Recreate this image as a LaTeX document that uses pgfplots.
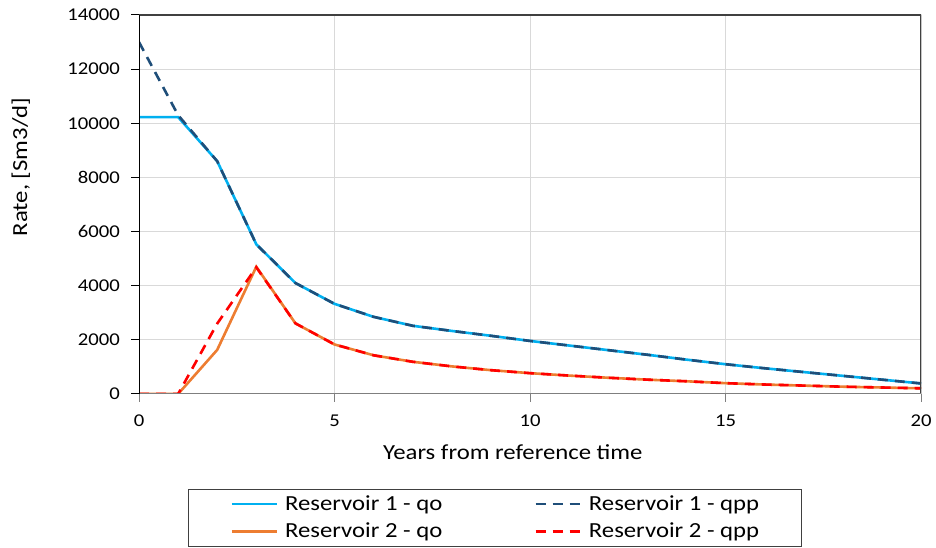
\documentclass[border=0pt]{standalone}
\usepackage{pgfplots}
\pgfplotsset{compat=1.18}
\usepackage{fontspec}
\setmainfont{Carlito}[FakeStretch=1.15]
\definecolor{rOne}{HTML}{00B0F0}
\definecolor{rOneP}{HTML}{1F4E79}
\definecolor{rTwo}{HTML}{ED7D31}
\definecolor{rTwoP}{HTML}{FF0000}
\definecolor{gridc}{HTML}{D9D9D9}
\definecolor{boxc}{HTML}{404040}
\definecolor{xaxc}{HTML}{7F7F7F}
\begin{document}
\fontsize{18}{22}\selectfont
\begin{tikzpicture}
\path (0,0) rectangle (936pt,548pt);
\begin{axis}[
  at={(139pt,154pt)}, anchor=south west,
  scale only axis, width=782pt, height=379pt,
  xmin=0, xmax=20, ymin=0, ymax=14000,
  xtick={0,5,10,15,20}, ytick={0,2000,...,14000},
  grid=major, grid style={gridc, line width=1pt},
  tick pos=left, tick align=outside, major tick length=8pt,
  every tick/.style={line width=1pt},
  xtick style={xaxc}, ytick style={black},
  axis line style={draw=none},
  /pgf/number format/assume math mode=true,
  scaled y ticks=false,
  yticklabel style={/pgf/number format/1000 sep={}, font=\fontsize{18}{22}\selectfont, inner sep=0pt, xshift=-11pt},
  xticklabel style={font=\fontsize{18}{22}\selectfont, inner sep=0pt, yshift=-13pt},
  xlabel={Years from reference time},
  ylabel={Rate, [Sm3/d]},
  every axis x label/.style={at={(axis description cs:0.478,-0.153)}, anchor=center, font=\fontsize{21.5}{25}\selectfont},
  every axis y label/.style={at={(axis description cs:-0.151,0.599)}, rotate=90, anchor=center, font=\fontsize{21.5}{25}\selectfont},
  legend columns=2,
  legend cell align=left,
  legend style={at={(axis description cs:0.455,-0.327)}, anchor=center,
    draw=boxc, line width=1pt, inner xsep=42pt, inner ysep=6pt,
    font=\fontsize{21.5}{25}\selectfont,
    nodes={inner sep=0pt},
    /tikz/every odd column/.append style={column sep=7pt},
    /tikz/every even column/.append style={column sep=92pt},
    row sep=10pt},
  legend image code/.code={\draw[#1] (0pt,0pt) -- (45pt,0pt);},
]
\addplot[rOne, line width=2.6pt] coordinates {(0,10230)(1,10230)(2,8600)(3,5530)(4,4100)(5,3330)(6,2850)(7,2520)(8,2330)(9,2150)(10,1960)(11,1790)(12,1620)(13,1450)(14,1270)(15,1100)(16,950)(17,810)(18,670)(19,530)(20,390)};
\addlegendentry{Reservoir 1 - qo}
\addplot[rOneP, line width=2.6pt, dash pattern=on 10pt off 7pt] coordinates {(0,13000)(1,10300)(2,8600)(3,5530)(4,4100)(5,3330)(6,2850)(7,2520)(8,2330)(9,2150)(10,1960)(11,1790)(12,1620)(13,1450)(14,1270)(15,1100)(16,950)(17,810)(18,670)(19,530)(20,390)};
\addlegendentry{Reservoir 1 - qpp}
\addplot[rTwo, line width=2.6pt] coordinates {(0,0)(1,0)(2,1630)(3,4700)(4,2610)(5,1830)(6,1430)(7,1190)(8,1020)(9,880)(10,770)(11,680)(12,600)(13,530)(14,470)(15,400)(16,350)(17,310)(18,270)(19,240)(20,210)};
\addlegendentry{Reservoir 2 - qo}
\addplot[rTwoP, line width=2.6pt, dash pattern=on 10pt off 7pt] coordinates {(0,0)(1,0)(2,2600)(3,4680)(4,2610)(5,1830)(6,1430)(7,1190)(8,1020)(9,880)(10,770)(11,680)(12,600)(13,530)(14,470)(15,400)(16,350)(17,310)(18,270)(19,240)(20,210)};
\addlegendentry{Reservoir 2 - qpp}
\draw[boxc, line width=1.2pt] (rel axis cs:0,1) -- (rel axis cs:1,1) -- (rel axis cs:1,0);
\draw[xaxc, line width=1.5pt] (rel axis cs:0,0) -- (rel axis cs:1,0);
\draw[black, line width=1pt] (rel axis cs:0,0) -- (rel axis cs:0,1);
\end{axis}
\end{tikzpicture}
\end{document}
